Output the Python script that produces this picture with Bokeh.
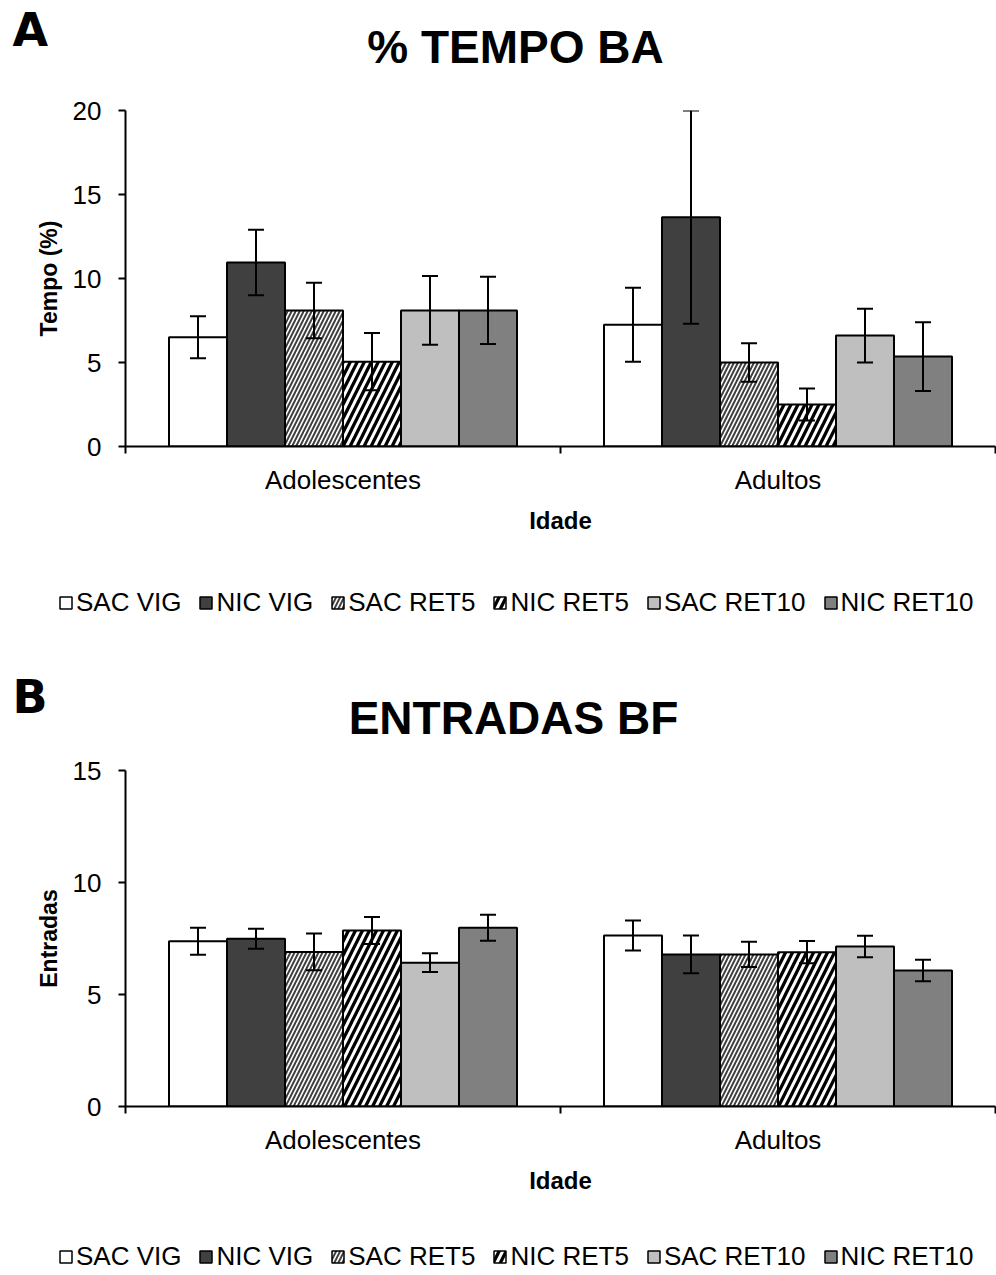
from bokeh.plotting import figure
from bokeh.models import (ColumnDataSource, Whisker, TeeHead, FixedTicker, Label,
                          Legend, LegendItem)
from bokeh.layouts import column, row
from bokeh.embed import file_html
from bokeh.resources import INLINE

# ---------------- data ----------------
groups = ["Adolescentes", "Adultos"]
series = ["SAC VIG", "NIC VIG", "SAC RET5", "NIC RET5", "SAC RET10", "NIC RET10"]

tempo_adol = [6.5, 10.95, 8.1, 5.05, 8.1, 8.1]
tempo_adol_err = [1.25, 1.95, 1.65, 1.7, 2.05, 2.0]
tempo_adul = [7.25, 13.65, 5.0, 2.5, 6.6, 5.35]
tempo_adul_err = [2.2, 6.35, 1.15, 0.95, 1.6, 2.05]

entradas_adol = [7.38, 7.49, 6.9, 7.86, 6.42, 7.98]
entradas_adol_err = [0.6, 0.45, 0.82, 0.6, 0.42, 0.58]
entradas_adul = [7.63, 6.79, 6.79, 6.89, 7.14, 6.07]
entradas_adul_err = [0.67, 0.84, 0.56, 0.5, 0.48, 0.48]

tempo_ticks = [0, 5, 10, 15, 20]
entradas_ticks = [0, 5, 10, 15]

# ---------------- styles ----------------
styles = [
    dict(fill_color="white"),
    dict(fill_color="#404040"),
    dict(fill_color="white", hatch_pattern="/", hatch_color="#404040", hatch_scale=8, hatch_weight=2),
    dict(fill_color="black", hatch_pattern="/", hatch_color="white", hatch_scale=14, hatch_weight=3),
    dict(fill_color="#BFBFBF"),
    dict(fill_color="#808080"),
]

FONT = "Liberation Sans"
W = 996


def free_fig(height):
    f = figure(width=W, height=height, x_range=(0, W), y_range=(0, height),
               output_backend="svg", toolbar_location=None,
               x_axis_location=None, y_axis_location=None, min_border=0,
               min_border_left=0, min_border_right=0, min_border_top=0, min_border_bottom=0)
    f.grid.visible = False
    f.outline_line_color = None
    return f


def header(letter, title, height, letter_y, title_x, title_y):
    f = free_fig(height)
    f.add_layout(Label(x=12, y=letter_y, text=letter, text_font="DejaVu Sans",
                       text_font_style="bold", text_font_size="46px", text_color="black",
                       text_baseline="middle", text_align="left"))
    f.add_layout(Label(x=title_x, y=title_y, text=title, text_font=FONT,
                       text_font_style="bold", text_font_size="46px", text_color="black",
                       text_baseline="middle", text_align="center"))
    return f


def legend_fig(height, ly, sources):
    f = free_fig(height)
    items = []
    for i, name in enumerate(series):
        # hidden copies of the bars, only used to give the legend its swatches
        r = f.vbar(x="x", top="top", width=0.1, source=sources[i], line_color="black",
                   line_width=1.5, visible=False, **styles[i])
        items.append(LegendItem(label=name, renderers=[r]))
    leg = Legend(items=items, orientation="horizontal", location=(58, ly),
                 glyph_width=15, glyph_height=15, label_standoff=3, spacing=17,
                 padding=0, margin=0, border_line_color=None, background_fill_alpha=0,
                 inactive_fill_alpha=0,
                 label_text_font=FONT, label_text_font_size="26px",
                 label_text_color="black")
    f.add_layout(leg, "center")
    return f


def make_panel(ylabel, adol, adol_err, adul, adul_err, ymax, yticks, height, top, bottom):
    p = figure(width=W, height=height, x_range=(0, 2), y_range=(0, ymax),
               output_backend="svg", toolbar_location=None,
               min_border_left=125, min_border_right=1,
               min_border_top=top, min_border_bottom=bottom)
    p.grid.visible = False
    p.outline_line_color = None

    nser = len(series)
    bw = 0.8 / nser
    sources = []
    for i, name in enumerate(series):
        xs = [g + 0.1 + (i + 0.5) * bw for g in range(len(groups))]
        tops = [adol[i], adul[i]]
        errs = [adol_err[i], adul_err[i]]
        src = ColumnDataSource(dict(x=xs, top=tops,
                                    upper=[t + e for t, e in zip(tops, errs)],
                                    lower=[t - e for t, e in zip(tops, errs)]))
        sources.append(src)
        p.vbar(x="x", top="top", width=bw, source=src, line_color="black",
               line_width=2, **styles[i])
        wk = Whisker(base="x", upper="upper", lower="lower", source=src,
                     line_color="black", line_width=2, level="overlay",
                     upper_head=TeeHead(size=16, line_color="black", line_width=2),
                     lower_head=TeeHead(size=16, line_color="black", line_width=2))
        p.add_layout(wk)

    ya = p.yaxis[0]
    ya.ticker = FixedTicker(ticks=yticks)
    ya.axis_line_width = 2
    ya.axis_line_color = "black"
    ya.major_tick_line_width = 2
    ya.major_tick_out = 7
    ya.major_tick_in = 0
    ya.minor_tick_line_color = None
    ya.major_label_text_font = FONT
    ya.major_label_text_font_size = "26px"
    ya.major_label_text_color = "black"
    ya.major_label_standoff = 17
    ya.axis_label = ylabel
    ya.axis_label_text_font = FONT
    ya.axis_label_text_font_style = "bold"
    ya.axis_label_text_font_size = "23px"
    ya.axis_label_text_color = "black"
    ya.axis_label_standoff = 8

    xa = p.xaxis[0]
    centers = [g + 0.5 for g in range(len(groups))]
    xa.ticker = FixedTicker(ticks=centers, minor_ticks=[0, 1, 2])
    xa.major_label_overrides = {c: g for c, g in zip(centers, groups)}
    xa.axis_line_width = 2
    xa.axis_line_color = "black"
    xa.major_tick_line_color = None
    xa.major_tick_out = 0
    xa.major_tick_in = 0
    xa.minor_tick_line_color = "black"
    xa.minor_tick_line_width = 2
    xa.minor_tick_out = 7
    xa.minor_tick_in = 0
    xa.major_label_text_font = FONT
    xa.major_label_text_font_size = "26px"
    xa.major_label_text_color = "black"
    xa.major_label_standoff = 11
    xa.axis_label = "Idade"
    xa.axis_label_text_font = FONT
    xa.axis_label_text_font_style = "bold"
    xa.axis_label_text_font_size = "24px"
    xa.axis_label_text_color = "black"
    xa.axis_label_standoff = 9
    return p, sources


# page rows: 0-80 header A | 80-550 panel A | 550-638 legend A
#            638-743 header B | 743-1210 panel B | 1210-1275 legend B
hA = header("A", "% TEMPO BA", 80, 51, 515, 34)
pA, srcA = make_panel("Tempo (%)", tempo_adol, tempo_adol_err, tempo_adul, tempo_adul_err,
                      20, tempo_ticks, height=470, top=30, bottom=104)
lA = legend_fig(88, 20, srcA)
hB = header("B", "ENTRADAS BF", 105, 47, 513, 26)
pB, srcB = make_panel("Entradas", entradas_adol, entradas_adol_err, entradas_adul,
                      entradas_adul_err, 15, entradas_ticks, height=467, top=27, bottom=104)
lB = legend_fig(65, 3, srcB)

layout = column(row(hA), pA, row(lA), row(hB), pB, row(lB), spacing=0)
open("out.html", "w").write(file_html(layout, INLINE))
